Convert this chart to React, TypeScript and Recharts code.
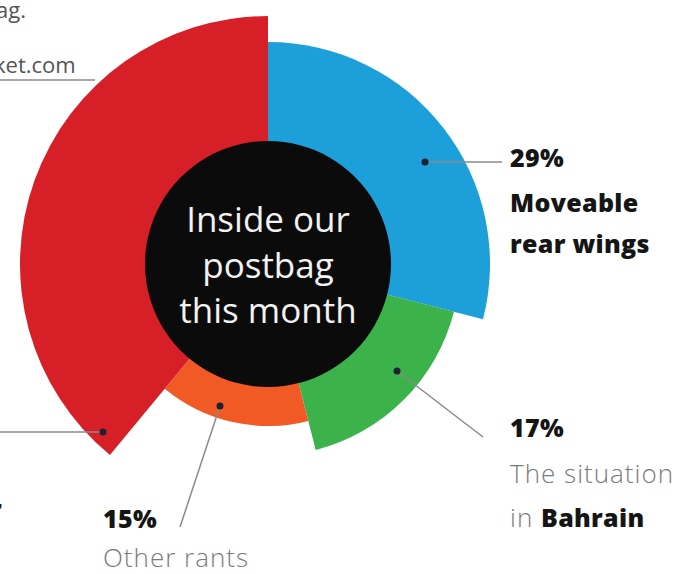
import React from "react";
import { PieChart, Pie, Cell } from "recharts";

// postbag topics, clockwise from 12 o'clock
const topics = ["Moveable rear wings", "The situation in Bahrain", "Other rants", "Other"];
const shares = [29, 17, 15, 39];
const colors = ["#1d9fd9", "#3cb24a", "#f15a24", "#d71f28"];
const radii = [222, 192, 162, 248];

const data = topics.map((name, i) => ({ name, value: shares[i] }));

const CX = 268;
const CY = 264;

const bold = { fontFamily: "'Open Sans', sans-serif", fontWeight: 800, fontSize: 25, fill: "#151515", letterSpacing: 0.3 };
const light = { fontFamily: "'Open Sans', sans-serif", fontWeight: 300, fontSize: 26, fill: "#7a7a7a", letterSpacing: 1 };

export default function App() {
  return (
    <div style={{ position: "absolute", left: 0, top: 0, width: 678, height: 574, background: "#fff", overflow: "hidden" }}>
      <PieChart width={678} height={574} margin={{ top: 0, right: 0, bottom: 0, left: 0 }}>
        {topics.map((t, k) => (
          <Pie
            key={t}
            data={data}
            dataKey="value"
            cx={CX}
            cy={CY}
            innerRadius={0}
            outerRadius={radii[k]}
            startAngle={90}
            endAngle={-270}
            stroke="none"
            isAnimationActive={false}
          >
            {data.map((d, i) => (
              <Cell key={d.name} fill={i === k ? colors[i] : "transparent"} />
            ))}
          </Pie>
        ))}
        <Pie
          data={[{ name: "centre", value: 1 }]}
          dataKey="value"
          cx={CX}
          cy={CY}
          innerRadius={0}
          outerRadius={123}
          fill="#0b0b0c"
          stroke="none"
          isAnimationActive={false}
        />
      </PieChart>
      <svg width={678} height={574} style={{ position: "absolute", left: 0, top: 0, pointerEvents: "none" }}>
        {/* centre title */}
        <g fontFamily="'Open Sans', sans-serif" fontSize={35} fill="#f2f2f2" textAnchor="middle" fontWeight={400}>
          <text x={CX} y={232}>Inside our</text>
          <text x={CX} y={278}>postbag</text>
          <text x={CX} y={323}>this month</text>
        </g>

        {/* leader lines */}
        <g stroke="#8a8a8a" strokeWidth={1.5}>
          <line x1={425} y1={162} x2={502} y2={162} />
          <line x1={397} y1={371} x2={483} y2={437} />
          <line x1={220} y1={406} x2={180} y2={527} />
          <line x1={0} y1={432} x2={103} y2={432} />
          <line x1={0} y1={80} x2={95} y2={80} />
        </g>
        <g fill="#1c2230">
          <circle cx={425} cy={162} r={3.5} />
          <circle cx={397} cy={371} r={3.5} />
          <circle cx={220} cy={406} r={3.5} />
          <circle cx={103} cy={432} r={3.5} />
        </g>

        {/* labels */}
        <text x={510} y={167} style={bold}>29%</text>
        <text x={510} y={212} style={bold}>Moveable</text>
        <text x={510} y={253} style={bold}>rear wings</text>

        <text x={510} y={437} style={bold}>17%</text>
        <text x={510} y={483} style={light}>The situation</text>
        <text x={510} y={527} style={light}>
          in <tspan style={bold}>Bahrain</tspan>
        </text>

        <text x={103} y={528} style={bold}>15%</text>
        <text x={103} y={567} style={light}>Other rants</text>

        {/* cropped text at the left edge, as in the source */}
        <text x={-4} y={18} style={{ ...light, fontSize: 22, fill: "#555", fontWeight: 400, letterSpacing: 0 }}>ag.</text>
        <text x={-6} y={73} style={{ ...light, fontSize: 22, fill: "#555", fontWeight: 400, letterSpacing: 0 }}>ket.com</text>
        <text x={-10} y={518} style={bold}>r</text>
      </svg>
    </div>
  );
}
